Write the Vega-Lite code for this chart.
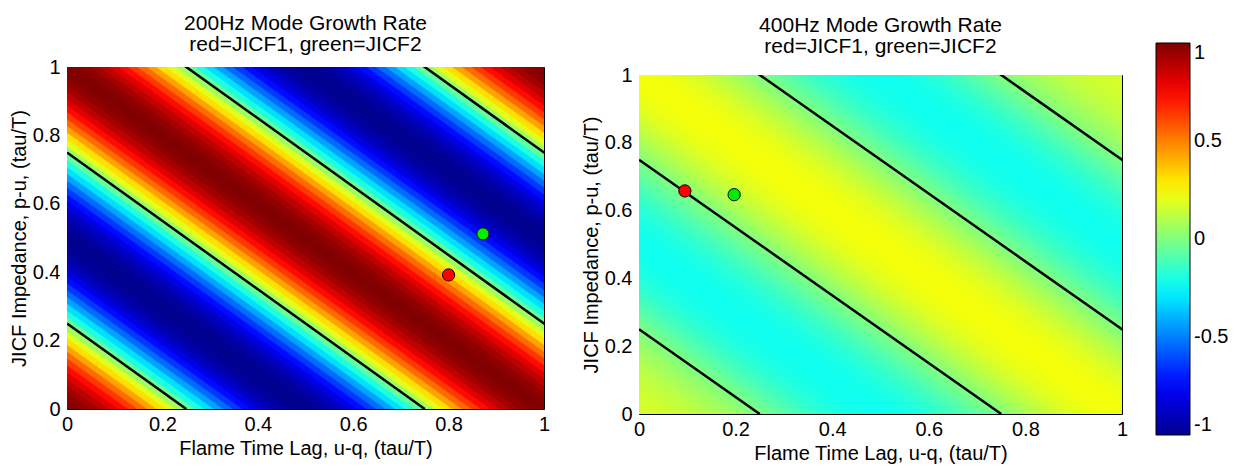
{
"$schema": "https://vega.github.io/schema/vega-lite/v6.json",
"padding": {"left": 8, "top": 12, "right": 0, "bottom": 0},
"background": "white",
"config": {
  "font": "Liberation Sans",
  "view": {"stroke": "#000000", "strokeWidth": 1},
  "axis": {"labelFontSize": 20, "titleFontSize": 20, "labelColor": "black", "titleColor": "black", "titleFontWeight": "normal", "ticks": false, "domain": false, "grid": false, "labelFlush": false},
  "title": {"fontSize": 21, "fontWeight": "normal", "color": "black", "lineHeight": 21, "anchor": "middle"}
},
"datasets": {
  "g200": [
    {"s":0,"o":0,"v":1},{"s":0.02,"o":0,"v":0.99},{"s":0.04,"o":0,"v":0.97},{"s":0.06,"o":0,"v":0.93},{"s":0.08,"o":0,"v":0.88},{"s":0.1,"o":0,"v":0.81},{"s":0.12,"o":0,"v":0.73},{"s":0.14,"o":0,"v":0.64},{"s":0.16,"o":0,"v":0.54},{"s":0.18,"o":0,"v":0.43},
    {"s":0.2,"o":0,"v":0.31},{"s":0.22,"o":0,"v":0.19},{"s":0.24,"o":0,"v":0.06},{"s":0.26,"o":0,"v":-0.06},{"s":0.28,"o":0,"v":-0.19},{"s":0.3,"o":0,"v":-0.31},{"s":0.32,"o":0,"v":-0.43},{"s":0.34,"o":0,"v":-0.54},{"s":0.36,"o":0,"v":-0.64},{"s":0.38,"o":0,"v":-0.73},
    {"s":0.4,"o":0,"v":-0.81},{"s":0.42,"o":0,"v":-0.88},{"s":0.44,"o":0,"v":-0.93},{"s":0.46,"o":0,"v":-0.97},{"s":0.48,"o":0,"v":-0.99},{"s":0.5,"o":0,"v":-1},{"s":0.52,"o":0,"v":-0.99},{"s":0.54,"o":0,"v":-0.97},{"s":0.56,"o":0,"v":-0.93},{"s":0.58,"o":0,"v":-0.88},
    {"s":0.6,"o":0,"v":-0.81},{"s":0.62,"o":0,"v":-0.73},{"s":0.64,"o":0,"v":-0.64},{"s":0.66,"o":0,"v":-0.54},{"s":0.68,"o":0,"v":-0.43},{"s":0.7,"o":0,"v":-0.31},{"s":0.72,"o":0,"v":-0.19},{"s":0.74,"o":0,"v":-0.06},{"s":0.76,"o":0,"v":0.06},{"s":0.78,"o":0,"v":0.19},
    {"s":0.8,"o":0,"v":0.31},{"s":0.82,"o":0,"v":0.43},{"s":0.84,"o":0,"v":0.54},{"s":0.86,"o":0,"v":0.64},{"s":0.88,"o":0,"v":0.73},{"s":0.9,"o":0,"v":0.81},{"s":0.92,"o":0,"v":0.88},{"s":0.94,"o":0,"v":0.93},{"s":0.96,"o":0,"v":0.97},{"s":0.98,"o":0,"v":0.99},
    {"s":1,"o":0,"v":1},{"s":1.02,"o":0,"v":0.99},{"s":1.04,"o":0,"v":0.97},{"s":1.06,"o":0,"v":0.93},{"s":1.08,"o":0,"v":0.88},{"s":1.1,"o":0,"v":0.81},{"s":1.12,"o":0,"v":0.73},{"s":1.14,"o":0,"v":0.64},{"s":1.16,"o":0,"v":0.54},{"s":1.18,"o":0,"v":0.43},
    {"s":1.2,"o":0,"v":0.31},{"s":1.22,"o":0,"v":0.19},{"s":1.24,"o":0,"v":0.06},{"s":1.26,"o":0,"v":-0.06},{"s":1.28,"o":0,"v":-0.19},{"s":1.3,"o":0,"v":-0.31},{"s":1.32,"o":0,"v":-0.43},{"s":1.34,"o":0,"v":-0.54},{"s":1.36,"o":0,"v":-0.64},{"s":1.38,"o":0,"v":-0.73},
    {"s":1.4,"o":0,"v":-0.81},{"s":1.42,"o":0,"v":-0.88},{"s":1.44,"o":0,"v":-0.93},{"s":1.46,"o":0,"v":-0.97},{"s":1.48,"o":0,"v":-0.99},{"s":1.5,"o":0,"v":-1},{"s":1.52,"o":0,"v":-0.99},{"s":1.54,"o":0,"v":-0.97},{"s":1.56,"o":0,"v":-0.93},{"s":1.58,"o":0,"v":-0.88},
    {"s":1.6,"o":0,"v":-0.81},{"s":1.62,"o":0,"v":-0.73},{"s":1.64,"o":0,"v":-0.64},{"s":1.66,"o":0,"v":-0.54},{"s":1.68,"o":0,"v":-0.43},{"s":1.7,"o":0,"v":-0.31},{"s":1.72,"o":0,"v":-0.19},{"s":1.74,"o":0,"v":-0.06},{"s":1.76,"o":0,"v":0.06},{"s":1.78,"o":0,"v":0.19},
    {"s":1.8,"o":0,"v":0.31},{"s":1.82,"o":0,"v":0.43},{"s":1.84,"o":0,"v":0.54},{"s":1.86,"o":0,"v":0.64},{"s":1.88,"o":0,"v":0.73},{"s":1.9,"o":0,"v":0.81},{"s":1.92,"o":0,"v":0.88},{"s":1.94,"o":0,"v":0.93},{"s":1.96,"o":0,"v":0.97},{"s":1.98,"o":0,"v":0.99},
    {"s":2,"o":0,"v":1}
  ],
  "g400": [
    {"s":0,"o":0,"v":0.17},{"s":0.02,"o":0,"v":0.168},{"s":0.04,"o":0,"v":0.164},{"s":0.06,"o":0,"v":0.157},{"s":0.08,"o":0,"v":0.148},{"s":0.1,"o":0,"v":0.137},{"s":0.12,"o":0,"v":0.124},{"s":0.14,"o":0,"v":0.109},{"s":0.16,"o":0,"v":0.092},{"s":0.18,"o":0,"v":0.074},
    {"s":0.2,"o":0,"v":0.054},{"s":0.22,"o":0,"v":0.033},{"s":0.24,"o":0,"v":0.011},{"s":0.26,"o":0,"v":-0.013},{"s":0.28,"o":0,"v":-0.04},{"s":0.3,"o":0,"v":-0.067},{"s":0.32,"o":0,"v":-0.093},{"s":0.34,"o":0,"v":-0.117},{"s":0.36,"o":0,"v":-0.14},{"s":0.38,"o":0,"v":-0.16},
    {"s":0.4,"o":0,"v":-0.178},{"s":0.42,"o":0,"v":-0.193},{"s":0.44,"o":0,"v":-0.205},{"s":0.46,"o":0,"v":-0.213},{"s":0.48,"o":0,"v":-0.218},{"s":0.5,"o":0,"v":-0.22},{"s":0.52,"o":0,"v":-0.218},{"s":0.54,"o":0,"v":-0.213},{"s":0.56,"o":0,"v":-0.205},{"s":0.58,"o":0,"v":-0.193},
    {"s":0.6,"o":0,"v":-0.178},{"s":0.62,"o":0,"v":-0.16},{"s":0.64,"o":0,"v":-0.14},{"s":0.66,"o":0,"v":-0.118},{"s":0.68,"o":0,"v":-0.094},{"s":0.7,"o":0,"v":-0.068},{"s":0.72,"o":0,"v":-0.041},{"s":0.74,"o":0,"v":-0.014},{"s":0.76,"o":0,"v":0.014},{"s":0.78,"o":0,"v":0.043},
    {"s":0.8,"o":0,"v":0.071},{"s":0.82,"o":0,"v":0.098},{"s":0.84,"o":0,"v":0.123},{"s":0.86,"o":0,"v":0.147},{"s":0.88,"o":0,"v":0.168},{"s":0.9,"o":0,"v":0.186},{"s":0.92,"o":0,"v":0.202},{"s":0.94,"o":0,"v":0.214},{"s":0.96,"o":0,"v":0.223},{"s":0.98,"o":0,"v":0.228},
    {"s":1,"o":0,"v":0.23},{"s":1.02,"o":0,"v":0.228},{"s":1.04,"o":0,"v":0.223},{"s":1.06,"o":0,"v":0.214},{"s":1.08,"o":0,"v":0.202},{"s":1.1,"o":0,"v":0.186},{"s":1.12,"o":0,"v":0.168},{"s":1.14,"o":0,"v":0.147},{"s":1.16,"o":0,"v":0.123},{"s":1.18,"o":0,"v":0.098},
    {"s":1.2,"o":0,"v":0.071},{"s":1.22,"o":0,"v":0.043},{"s":1.24,"o":0,"v":0.014},{"s":1.26,"o":0,"v":-0.014},{"s":1.28,"o":0,"v":-0.041},{"s":1.3,"o":0,"v":-0.068},{"s":1.32,"o":0,"v":-0.094},{"s":1.34,"o":0,"v":-0.118},{"s":1.36,"o":0,"v":-0.14},{"s":1.38,"o":0,"v":-0.16},
    {"s":1.4,"o":0,"v":-0.178},{"s":1.42,"o":0,"v":-0.193},{"s":1.44,"o":0,"v":-0.205},{"s":1.46,"o":0,"v":-0.213},{"s":1.48,"o":0,"v":-0.218},{"s":1.5,"o":0,"v":-0.22},{"s":1.52,"o":0,"v":-0.218},{"s":1.54,"o":0,"v":-0.213},{"s":1.56,"o":0,"v":-0.205},{"s":1.58,"o":0,"v":-0.193},
    {"s":1.6,"o":0,"v":-0.178},{"s":1.62,"o":0,"v":-0.16},{"s":1.64,"o":0,"v":-0.14},{"s":1.66,"o":0,"v":-0.117},{"s":1.68,"o":0,"v":-0.093},{"s":1.7,"o":0,"v":-0.067},{"s":1.72,"o":0,"v":-0.04},{"s":1.74,"o":0,"v":-0.013},{"s":1.76,"o":0,"v":0.011},{"s":1.78,"o":0,"v":0.033},
    {"s":1.8,"o":0,"v":0.054},{"s":1.82,"o":0,"v":0.074},{"s":1.84,"o":0,"v":0.092},{"s":1.86,"o":0,"v":0.109},{"s":1.88,"o":0,"v":0.124},{"s":1.9,"o":0,"v":0.137},{"s":1.92,"o":0,"v":0.148},{"s":1.94,"o":0,"v":0.157},{"s":1.96,"o":0,"v":0.164},{"s":1.98,"o":0,"v":0.168},
    {"s":2,"o":0,"v":0.17}
  ],
  "contours": [{"s":0.25,"o":0},{"s":0.75,"o":0},{"s":1.25,"o":0},{"s":1.75,"o":0}],
  "pts": [
    {"panel":"200Hz","case":"JICF1","x":0.8,"y":0.392},
    {"panel":"200Hz","case":"JICF2","x":0.872,"y":0.512},
    {"panel":"400Hz","case":"JICF1","x":0.095,"y":0.658},
    {"panel":"400Hz","case":"JICF2","x":0.197,"y":0.647}
  ],
  "colorbar": [{"v": -1}, {"v": 1}]
},
"hconcat": [
  {
    "width": 477, "height": 342,
    "title": {"text": ["200Hz Mode Growth Rate", "red=JICF1, green=JICF2"], "offset": 2},
    "view": {"fill": "#800000", "stroke": "#000000"},
    "layer": [
      {"data": {"name": "g200"},
       "mark": {"type": "rule", "clip": true, "strokeWidth": 7, "strokeCap": "square"},
       "encoding": {
         "x": {"field": "s", "type": "quantitative", "title": "Flame Time Lag, u-q, (tau/T)", "scale": {"domain": [0, 1], "nice": false, "zero": false},
               "axis": {"values": [0, 0.2, 0.4, 0.6, 0.8, 1], "format": "~g", "labelPadding": 5, "titlePadding": 4}},
         "y": {"field": "o", "type": "quantitative", "title": "JICF Impedance, p-u, (tau/T)", "scale": {"domain": [0, 1], "nice": false, "zero": false},
               "axis": {"values": [0, 0.2, 0.4, 0.6, 0.8, 1], "format": "~g", "labelPadding": 7, "titlePadding": 3}},
         "x2": {"field": "o"},
         "y2": {"field": "s"},
         "color": {"field": "v", "type": "quantitative",
                   "scale": {"type": "linear", "domain": [-1, -0.75, -0.25, 0.25, 0.75, 1], "range": ["#00008f", "#0000ff", "#00ffff", "#ffff00", "#ff0000", "#800000"], "interpolate": "rgb", "clamp": true},
                   "legend": null}
       }},
      {"data": {"name": "contours"},
       "mark": {"type": "rule", "clip": true, "color": "black", "strokeWidth": 2.5},
       "encoding": {
         "x": {"field": "s", "type": "quantitative", "title": "Flame Time Lag, u-q, (tau/T)"},
         "y": {"field": "o", "type": "quantitative", "title": "JICF Impedance, p-u, (tau/T)"},
         "x2": {"field": "o"},
         "y2": {"field": "s"}
       }},
      {"data": {"name": "pts"},
       "transform": [{"filter": "datum.panel === '200Hz' && datum.case === 'JICF1'"}],
       "mark": {"type": "point", "filled": true, "fill": "#ff0000", "stroke": "#000000", "strokeWidth": 1, "size": 150, "opacity": 1},
       "encoding": {
         "x": {"field": "x", "type": "quantitative", "title": "Flame Time Lag, u-q, (tau/T)"},
         "y": {"field": "y", "type": "quantitative", "title": "JICF Impedance, p-u, (tau/T)"}
       }},
      {"data": {"name": "pts"},
       "transform": [{"filter": "datum.panel === '200Hz' && datum.case === 'JICF2'"}],
       "mark": {"type": "point", "filled": true, "fill": "#00ee00", "stroke": "#000000", "strokeWidth": 1, "size": 150, "opacity": 1},
       "encoding": {
         "x": {"field": "x", "type": "quantitative", "title": "Flame Time Lag, u-q, (tau/T)"},
         "y": {"field": "y", "type": "quantitative", "title": "JICF Impedance, p-u, (tau/T)"}
       }}
    ]
  },
  {
    "vconcat": [
      {"width": 483, "height": 1, "data": {"name": "colorbar"}, "mark": {"type": "point", "opacity": 0}, "view": {"stroke": null},
       "encoding": {
         "color": {"field": "v", "type": "quantitative",
                   "scale": {"type": "linear", "domain": [-1, -0.75, -0.25, 0.25, 0.75, 1], "range": ["#00008f", "#0000ff", "#00ffff", "#ffff00", "#ff0000", "#800000"], "interpolate": "rgb", "clamp": true},
                   "legend": {"orient": "none", "legendX": 517, "legendY": -24, "title": null, "direction": "vertical", "gradientLength": 392, "gradientThickness": 34, "gradientStrokeColor": "black", "gradientStrokeWidth": 1, "values": [-1, -0.5, 0, 0.5, 1], "format": "~g", "labelExpr": "replace(datum.label, '\u2212', '-')", "labelFontSize": 20, "labelColor": "black", "labelOffset": 4, "labelOverlap": false, "labelBaseline": "middle", "padding": 0}}
       }},
      {
        "width": 483, "height": 339,
        "title": {"text": ["400Hz Mode Growth Rate", "red=JICF1, green=JICF2"], "offset": 8},
        "view": {"fill": "#d6ff29", "stroke": "#000000"},
        "layer": [
          {"data": {"name": "g400"},
           "mark": {"type": "rule", "clip": true, "strokeWidth": 7, "strokeCap": "square"},
           "encoding": {
             "x": {"field": "s", "type": "quantitative", "title": "Flame Time Lag, u-q, (tau/T)", "scale": {"domain": [0, 1], "nice": false, "zero": false},
                   "axis": {"values": [0, 0.2, 0.4, 0.6, 0.8, 1], "format": "~g", "labelPadding": 5, "titlePadding": 4}},
             "y": {"field": "o", "type": "quantitative", "title": "JICF Impedance, p-u, (tau/T)", "scale": {"domain": [0, 1], "nice": false, "zero": false},
                   "axis": {"values": [0, 0.2, 0.4, 0.6, 0.8, 1], "format": "~g", "labelPadding": 7, "titlePadding": 3}},
             "x2": {"field": "o"},
             "y2": {"field": "s"},
             "color": {"field": "v", "type": "quantitative",
                       "scale": {"type": "linear", "domain": [-1, -0.75, -0.25, 0.25, 0.75, 1], "range": ["#00008f", "#0000ff", "#00ffff", "#ffff00", "#ff0000", "#800000"], "interpolate": "rgb", "clamp": true},
                       "legend": null}
           }},
          {"data": {"name": "contours"},
           "mark": {"type": "rule", "clip": true, "color": "black", "strokeWidth": 2.5},
           "encoding": {
             "x": {"field": "s", "type": "quantitative", "title": "Flame Time Lag, u-q, (tau/T)"},
             "y": {"field": "o", "type": "quantitative", "title": "JICF Impedance, p-u, (tau/T)"},
             "x2": {"field": "o"},
             "y2": {"field": "s"}
           }},
          {"data": {"name": "pts"},
           "transform": [{"filter": "datum.panel === '400Hz' && datum.case === 'JICF1'"}],
           "mark": {"type": "point", "filled": true, "fill": "#ff0000", "stroke": "#000000", "strokeWidth": 1, "size": 150, "opacity": 1},
           "encoding": {
             "x": {"field": "x", "type": "quantitative", "title": "Flame Time Lag, u-q, (tau/T)"},
             "y": {"field": "y", "type": "quantitative", "title": "JICF Impedance, p-u, (tau/T)"}
           }},
          {"data": {"name": "pts"},
           "transform": [{"filter": "datum.panel === '400Hz' && datum.case === 'JICF2'"}],
           "mark": {"type": "point", "filled": true, "fill": "#00ee00", "stroke": "#000000", "strokeWidth": 1, "size": 150, "opacity": 1},
           "encoding": {
             "x": {"field": "x", "type": "quantitative", "title": "Flame Time Lag, u-q, (tau/T)"},
             "y": {"field": "y", "type": "quantitative", "title": "JICF Impedance, p-u, (tau/T)"}
           }}
        ]
      }
    ],
    "spacing": 7,
    "bounds": "flush",
    "resolve": {"scale": {"color": "independent"}, "legend": {"color": "independent"}}
  }
],
"spacing": 95,
"bounds": "flush",
"resolve": {"scale": {"color": "independent"}, "legend": {"color": "independent"}}
}
